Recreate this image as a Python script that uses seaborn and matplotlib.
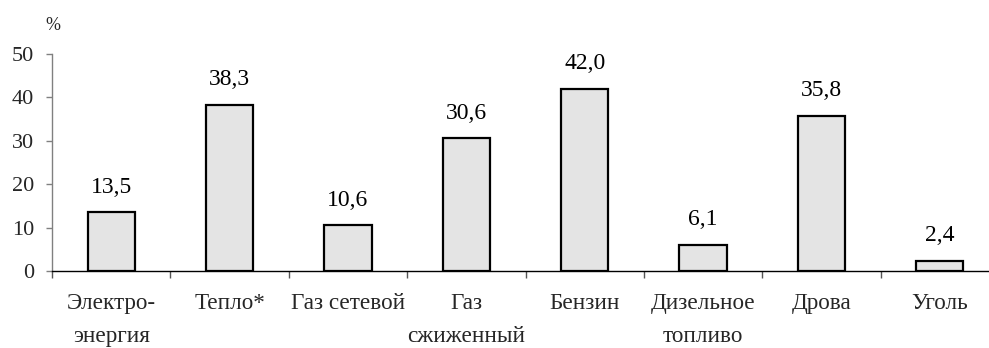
import matplotlib
matplotlib.use("Agg")
import matplotlib.pyplot as plt
import seaborn as sns
import pandas as pd

categories = ["Электро-\nэнергия", "Тепло*", "Газ сетевой", "Газ\nсжиженный",
              "Бензин", "Дизельное\nтопливо", "Дрова", "Уголь"]
values = [13.5, 38.3, 10.6, 30.6, 42.0, 6.1, 35.8, 2.4]
y_ticks = [0, 10, 20, 30, 40, 50]

sns.set_theme(style="white")
plt.rcParams["font.family"] = ["Liberation Serif", "DejaVu Serif"]

df = pd.DataFrame({"cat": categories, "val": values})

fig = plt.figure(figsize=(9.89, 3.48), dpi=100)
ax = fig.add_axes([52 / 989, (348 - 271) / 348, 947 / 989, (271 - 54) / 348])

sns.barplot(data=df, x="cat", y="val", ax=ax, color="#e4e4e4",
            edgecolor="black", linewidth=1.6, width=0.4, saturation=1)

for i, v in enumerate(values):
    ax.text(i, v + 3.3, f"{v:.1f}".replace(".", ","), ha="center", va="bottom",
            fontsize=17, color="black")

ax.set_ylim(0, 50)
ax.set_xlim(-0.5, len(categories) - 0.5)
ax.set_yticks(y_ticks)
ax.set_yticklabels([str(t) for t in y_ticks], fontsize=16)
ax.set_xticks([i - 0.5 for i in range(len(categories) + 1)], minor=False)
ax.set_xticklabels([])
ax.set_xticks(range(len(categories)), minor=True)
ax.set_xticklabels(categories, minor=True, fontsize=16.7, linespacing=1.75)
ax.tick_params(axis="x", which="major", length=5, width=1, color="#555555", direction="out", bottom=True)
ax.tick_params(axis="x", which="minor", length=0, pad=16)
ax.tick_params(axis="y", length=4, width=1, color="#808080", direction="out", left=True, pad=9)

ax.set_xlabel("")
ax.set_ylabel("")
for s in ["top", "right"]:
    ax.spines[s].set_visible(False)
ax.spines["left"].set_color("#808080")
ax.spines["left"].set_linewidth(1.0)
ax.spines["bottom"].set_color("black")
ax.spines["bottom"].set_linewidth(1.0)
ax.grid(False)

fig.text(53 / 989, 1 - 25 / 348, "%", ha="center", va="center", fontsize=13)

fig.savefig("out.png", dpi=100)
